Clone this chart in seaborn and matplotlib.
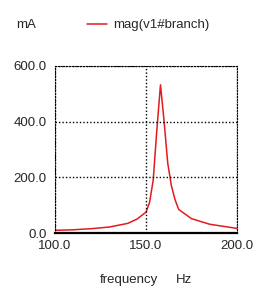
import numpy as np
import pandas as pd
import matplotlib
matplotlib.use("Agg")
import matplotlib.pyplot as plt
import seaborn as sb

# sweep points (Hz, mA)
freq = [100, 110, 120, 130, 140, 145, 150, 152, 154, 156, 158, 160, 162, 164, 166, 168, 175, 185, 200]
mag = [10, 12, 16, 22, 35, 50, 75, 110, 190, 370, 532, 400, 250, 170, 120, 85, 52, 32, 17]

x_ticks = [100.0, 150.0, 200.0]
y_ticks = [0.0, 200.0, 400.0, 600.0]

data = pd.DataFrame({"frequency": freq, "mag": mag})

sb.set_style("white")
plt.rcParams['font.family'] = ['Liberation Sans', 'DejaVu Sans']

fig = plt.figure(figsize=(2.72, 2.94), dpi=100)
ax = fig.add_axes([0.202, 0.207, 0.669, 0.569])

sb.lineplot(data=data, x="frequency", y="mag", color="#e41a1c", linewidth=1.1, ax=ax, legend=False)

ax.set_xlim(100, 200)
ax.set_ylim(0, 600)
ax.set_xticks(x_ticks)
ax.set_yticks(y_ticks)
ax.set_xticklabels(["%.1f" % v for v in x_ticks], fontsize=9.5)
ax.set_yticklabels(["%.1f" % v for v in y_ticks], fontsize=9.5)
ax.tick_params(axis="y", length=0, pad=6)
ax.tick_params(axis="x", length=0, pad=5)
ax.grid(True, axis="both", color="black", linestyle=(0, (1, 1.5)), linewidth=1.0)
ax.set_axisbelow(False)
for s in ["top", "right", "left"]:
    ax.spines[s].set_linestyle((0, (1, 1.5)))
    ax.spines[s].set_color("black")
    ax.spines[s].set_linewidth(0.8)
ax.spines["bottom"].set_color("black")
ax.spines["bottom"].set_linewidth(1.6)
ax.set_xlabel("")
ax.set_ylabel("")

fig.text(16 / 272, 1 - 25 / 294, "mA", fontsize=9.5, va="center")
fig.add_artist(plt.Line2D([87 / 272, 107 / 272], [1 - 24 / 294, 1 - 24 / 294], color="#e41a1c", linewidth=1.1))
fig.text(113 / 272, 1 - 25 / 294, "mag(v1#branch)", fontsize=9.5, va="center")
fig.text(100 / 272, 1 - 280 / 294, "frequency", fontsize=9.5, va="center")
fig.text(176 / 272, 1 - 280 / 294, "Hz", fontsize=9.5, va="center")

fig.savefig("out.png", dpi=100)
